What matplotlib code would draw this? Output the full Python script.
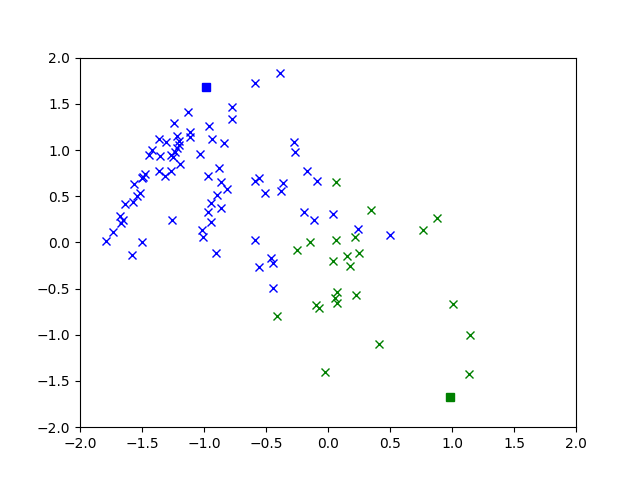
import matplotlib
matplotlib.use("Agg")
import matplotlib.pyplot as plt

# class 0 samples (blue)
blue_x = [-1.79, -1.736, -1.677, -1.656, -1.672, -1.637, -1.58, -1.575, -1.565, -1.54,
          -1.516, -1.50, -1.49, -1.476, -1.50, -1.44, -1.42, -1.365, -1.36, -1.355,
          -1.317, -1.306, -1.27, -1.27, -1.256, -1.25, -1.24, -1.234, -1.22, -1.215,
          -1.204, -1.204, -1.194, -1.129, -1.113, -1.113, -1.03, -1.014, -1.006, -0.965,
          -0.965, -0.957, -0.94, -0.94, -0.933, -0.903, -0.898, -0.876, -0.86, -0.86,
          -0.839, -0.817, -0.774, -0.774, -0.589, -0.589, -0.554, -0.589, -0.56, -0.506,
          -0.46, -0.44, -0.44, -0.387, -0.377, -0.365, -0.274, -0.27, -0.19, -0.17,
          -0.11, -0.086, 0.043, 0.24, 0.50]
blue_y = [0.01, 0.115, 0.285, 0.24, 0.21, 0.42, -0.133, 0.436, 0.63, 0.50,
          0.53, 0.70, 0.71, 0.74, 0.007, 0.948, 1.0, 1.117, 0.775, 0.93,
          0.72, 1.09, 0.948, 0.775, 0.24, 0.927, 1.29, 0.973, 1.02, 1.153,
          1.10, 1.056, 0.846, 1.416, 1.19, 1.14, 0.955, 0.133, 0.06, 0.72,
          0.33, 1.26, 0.43, 0.22, 1.117, -0.11, 0.508, 0.80, 0.65, 0.375,
          1.077, 0.573, 1.46, 1.34, 1.72, 0.66, 0.695, 0.03, -0.27, 0.537,
          -0.17, -0.22, -0.49, 1.83, 0.555, 0.638, 1.09, 0.98, 0.33, 0.775,
          0.24, 0.667, 0.31, 0.15, 0.083]

# class 1 samples (green)
green_x = [0.065, 0.347, 0.218, -0.248, -0.145, 0.065, 0.15, 0.25, 0.043, 0.18,
           -0.414, -0.097, -0.075, 0.075, 0.057, 0.075, 0.226, 0.414, -0.022, 0.882,
           0.77, 1.01, 1.145, 1.137]
green_y = [0.656, 0.35, 0.06, -0.08, 0.0, 0.03, -0.144, -0.11, -0.205, -0.25,
           -0.797, -0.68, -0.71, -0.54, -0.60, -0.66, -0.573, -1.095, -1.40, 0.267,
           0.13, -0.663, -1.005, -1.42]

# centers
center_blue = (-0.984, 1.683)
center_green = (0.984, -1.668)

fig, ax = plt.subplots(figsize=(6.4, 4.8), dpi=100)
ax.plot(blue_x, blue_y, "bx")
ax.plot(green_x, green_y, "gx")
ax.plot(*center_blue, "bs")
ax.plot(*center_green, "gs")
ax.set_xlim(-2, 2)
ax.set_ylim(-2, 2)
fig.savefig("out.png")
